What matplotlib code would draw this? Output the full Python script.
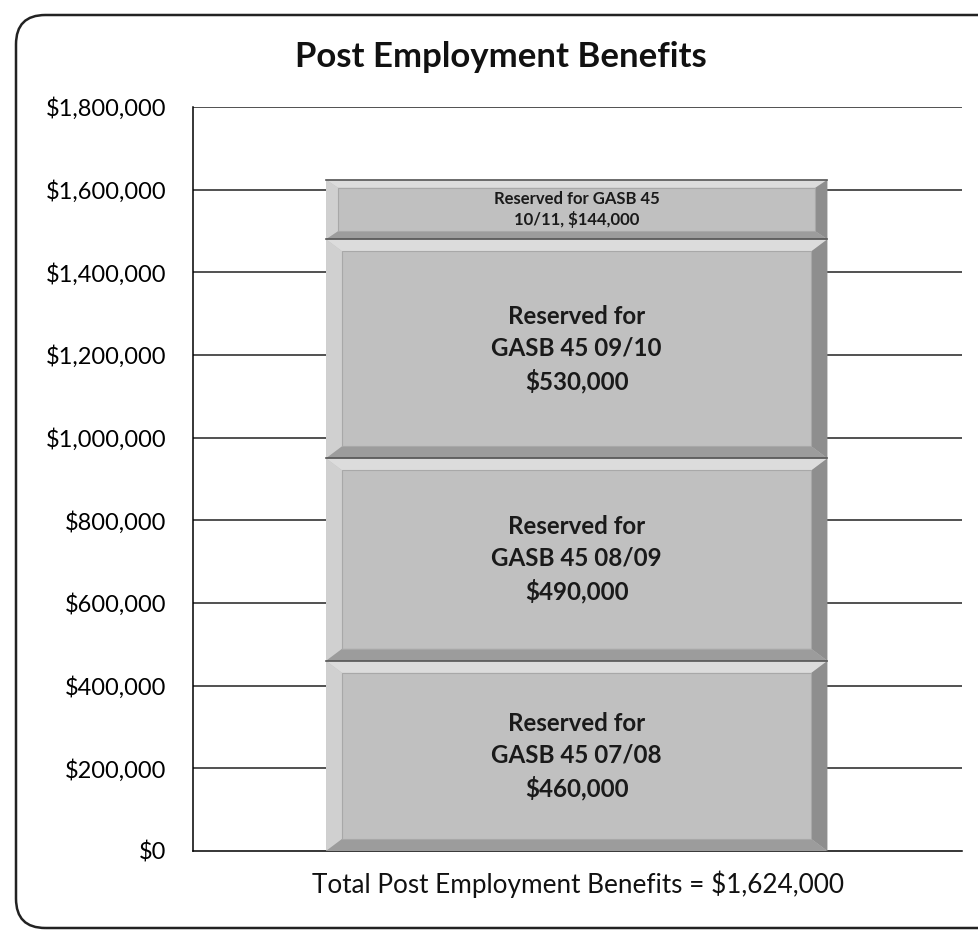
import matplotlib.pyplot as plt
from matplotlib.patches import FancyBboxPatch, Polygon, Rectangle

# data
segments = ["07/08", "08/09", "09/10", "10/11"]
values = [460000, 490000, 530000, 144000]
labels = ["Reserved for\nGASB 45 07/08\n$460,000",
          "Reserved for\nGASB 45 08/09\n$490,000",
          "Reserved for\nGASB 45 09/10\n$530,000",
          "Reserved for GASB 45\n10/11, $144,000"]
yticks = [0, 200000, 400000, 600000, 800000, 1000000, 1200000, 1400000, 1600000, 1800000]
total = sum(values)

plt.rcParams['font.family'] = ['Lato', 'DejaVu Sans']

fig = plt.figure(figsize=(9.79, 9.43), dpi=100)
W, H = 979, 943
ax = fig.add_axes([193 / W, 1 - 851 / H, (962 - 193) / W, (851 - 107) / H])

# rounded frame
frame = FancyBboxPatch((16 / W, 15 / H), 1.2, (928 - 15) / H,
                       boxstyle="round,pad=0,rounding_size=0.03",
                       transform=fig.transFigure, fill=False, lw=1.8,
                       ec="#222222", mutation_aspect=W / H)
fig.patches.append(frame)

ax.set_xlim(0, 1)
ax.set_ylim(0, 1800000)
ax.set_yticks(yticks)
ax.set_yticklabels(["${:,}".format(v) for v in yticks], fontsize=17)
ax.tick_params(axis='y', length=0, pad=19)
ax.set_xticks([])
for v in yticks[1:]:
    ax.axhline(v, color="#222222", lw=1.1, zorder=0)
for s in ["top", "right"]:
    ax.spines[s].set_visible(False)
ax.spines["left"].set_linewidth(1.1)
ax.spines["bottom"].set_linewidth(1.1)

bottoms = [sum(values[:i]) for i in range(len(values))]
bars = ax.bar([0.499] * len(values), values, width=0.652, bottom=bottoms,
              color="#c0c0c0", edgecolor="none", zorder=2)

# bevel effect from bar geometry
px_x = 1 / (962 - 193)
px_y = 1800000 / (851 - 107)
for i, p in enumerate(bars.patches):
    x0, y0 = p.get_x(), p.get_y()
    x1, y1 = x0 + p.get_width(), y0 + p.get_height()
    bx = (16 if values[i] > 300000 else 12) * px_x
    by = (12 if values[i] > 300000 else 8) * px_y
    ix0, ix1, iy0, iy1 = x0 + bx, x1 - bx, y0 + by, y1 - by
    ax.add_patch(Polygon([(x0, y1), (x1, y1), (ix1, iy1), (ix0, iy1)],
                         color="#dcdcdc", zorder=3, lw=0))
    ax.add_patch(Polygon([(x0, y0), (x0, y1), (ix0, iy1), (ix0, iy0)],
                         color="#d0d0d0", zorder=3, lw=0))
    ax.add_patch(Polygon([(x1, y0), (x1, y1), (ix1, iy1), (ix1, iy0)],
                         color="#8e8e8e", zorder=3, lw=0))
    ax.add_patch(Polygon([(x0, y0), (x1, y0), (ix1, iy0), (ix0, iy0)],
                         color="#9c9c9c", zorder=3, lw=0))
    ax.add_patch(Rectangle((ix0, iy0), ix1 - ix0, iy1 - iy0, fill=False,
                           ec="#a8a8a8", lw=0.8, zorder=4))
    ax.plot([x0, x1], [y1, y1], color="#555555", lw=1.2, zorder=4)
    fs = 17.4 if values[i] > 300000 else 12
    ax.text(p.get_x() + p.get_width() / 2, y0 + values[i] / 2, labels[i],
            ha="center", va="center", fontsize=fs, fontweight="bold",
            color="#1a1a1a", linespacing=1.45 if values[i] > 300000 else 1.35,
            zorder=5)

fig.text(501 / W, 1 - 57 / H, "Post Employment Benefits", ha="center",
         va="center", fontsize=25, fontweight="bold", color="#111111")
fig.text(578 / W, 1 - 884 / H,
         "Total Post Employment Benefits = ${:,}".format(total),
         ha="center", va="center", fontsize=18.8, color="#111111")

plt.savefig("out.png", dpi=100)
